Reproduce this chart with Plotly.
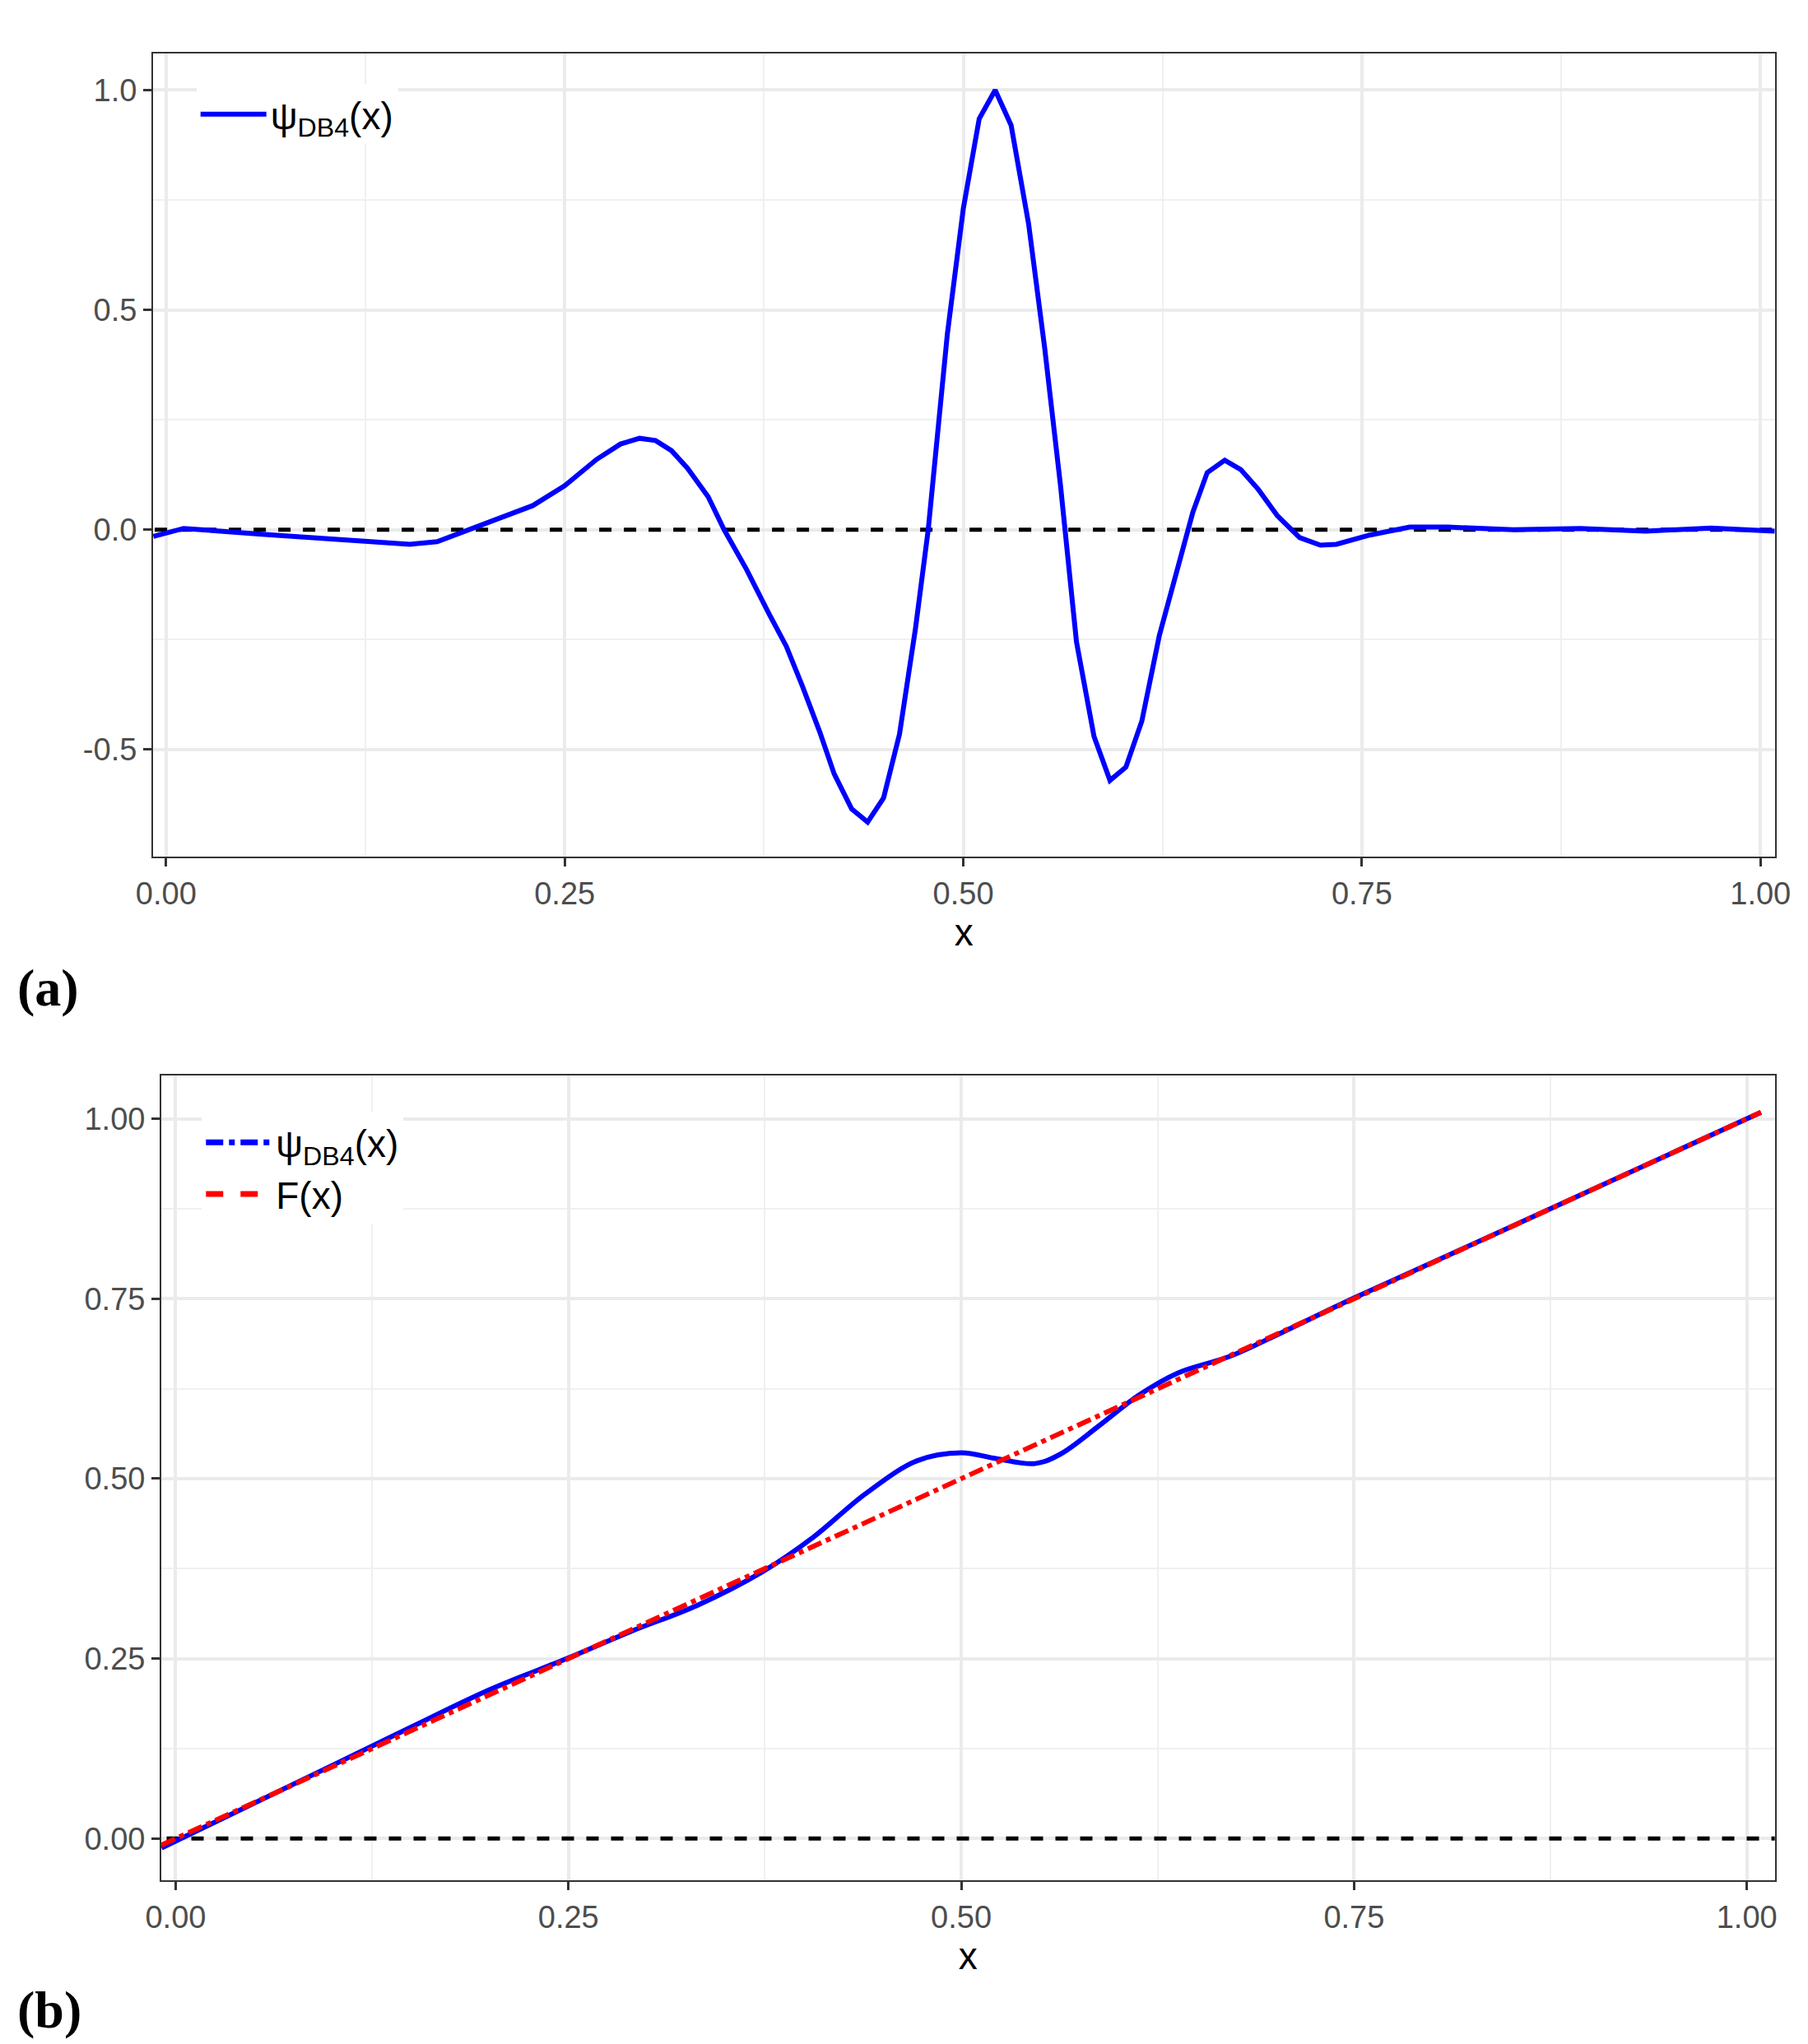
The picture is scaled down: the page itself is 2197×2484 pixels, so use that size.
import plotly.graph_objects as go

xa = [-0.008,0.011,0.06,0.12,0.153,0.17,0.19,0.23,0.25,0.27,0.285,0.297,0.307,0.317,0.327,0.34,0.35,0.364,0.378,0.389,0.399,0.41,0.419,0.43,0.44,0.45,0.46,0.47,0.478,0.49,0.50,0.51,0.52,0.53,0.541,0.551,0.561,0.571,0.582,0.592,0.602,0.612,0.623,0.634,0.644,0.653,0.664,0.674,0.685,0.697,0.711,0.724,0.734,0.755,0.78,0.804,0.845,0.887,0.928,0.969,1.009]
ya = [-0.015,0.003,-0.01,-0.025,-0.033,-0.027,0.0,0.055,0.1,0.16,0.195,0.208,0.203,0.18,0.14,0.075,0.0,-0.09,-0.19,-0.265,-0.355,-0.46,-0.555,-0.635,-0.665,-0.61,-0.465,-0.225,0.0,0.445,0.73,0.935,1.0,0.92,0.695,0.415,0.1,-0.255,-0.47,-0.57,-0.54,-0.435,-0.24,-0.09,0.04,0.13,0.158,0.137,0.092,0.032,-0.018,-0.035,-0.033,-0.012,0.006,0.006,0.0,0.003,-0.003,0.004,-0.003]

xb = [-0.009,0.1,0.15,0.2,0.25,0.29,0.332,0.373,0.406,0.439,0.472,0.5,0.522,0.547,0.563,0.588,0.613,0.638,0.671,0.704,0.749,0.85,1.009]
yb = [-0.013,0.102,0.155,0.207,0.251,0.288,0.324,0.37,0.419,0.479,0.525,0.536,0.528,0.521,0.534,0.574,0.616,0.647,0.67,0.703,0.75,0.85,1.009]
xf = [-0.009,1.009]
yf = [-0.009,1.009]

xticks = [0,0.25,0.5,0.75,1.0]
xlabels = ["0.00","0.25","0.50","0.75","1.00"]
ya_ticks = [-0.5,0,0.5,1.0]
ya_labels = ["-0.5","0.0","0.5","1.0"]
yb_ticks = [0,0.25,0.5,0.75,1.0]
yb_labels = ["0.00","0.25","0.50","0.75","1.00"]
x_minor = [0.125,0.375,0.625,0.875]
ya_minor = [-0.25,0.25,0.75]
yb_minor = [0.125,0.375,0.625,0.875]

fig = go.Figure()
fig.add_trace(go.Scatter(x=[-0.1,1.1], y=[0,0], mode="lines", line=dict(color="black", width=5, dash="dash"), showlegend=False, xaxis="x", yaxis="y"))
fig.add_trace(go.Scatter(x=xa, y=ya, mode="lines", line=dict(color="#0000FF", width=6), name="ψ<sub>DB4</sub>(x)", legend="legend", xaxis="x", yaxis="y"))

fig.add_trace(go.Scatter(x=[-0.1,1.1], y=[0,0], mode="lines", line=dict(color="black", width=5, dash="dash"), showlegend=False, xaxis="x2", yaxis="y2"))
fig.add_trace(go.Scatter(x=xb, y=yb, mode="lines", line=dict(color="#0000FF", width=6, shape="spline"), showlegend=False, xaxis="x2", yaxis="y2"))
fig.add_trace(go.Scatter(x=xf, y=yf, mode="lines", line=dict(color="#FF0000", width=6, dash="dashdot"), showlegend=False, xaxis="x2", yaxis="y2"))
fig.add_trace(go.Scatter(x=[None], y=[None], mode="lines", line=dict(color="#0000FF", width=7, dash="dashdot"), name="ψ<sub>DB4</sub>(x)", legend="legend2", xaxis="x2", yaxis="y2"))
fig.add_trace(go.Scatter(x=[None], y=[None], mode="lines", line=dict(color="#FF0000", width=7, dash="dash"), name="F(x)", legend="legend2", xaxis="x2", yaxis="y2"))

ax = dict(showline=True, mirror=True, linecolor="#333333", linewidth=2, ticks="outside", ticklen=10, tickwidth=3, tickcolor="#333333",
          gridcolor="#EBEBEB", gridwidth=4, zeroline=False, automargin=False,
          tickfont=dict(family="Liberation Sans", size=38, color="#4D4D4D"))
def mn(vals):
    return dict(tickvals=vals, showgrid=True, gridcolor="#F0F0F0", gridwidth=2, ticks="")
tf = dict(family="Liberation Sans", size=46, color="black")
fig.update_layout(
    width=2197, height=2484, margin=dict(l=0, r=0, t=0, b=0), paper_bgcolor="white", plot_bgcolor="white",
    xaxis=dict(ax, domain=[0.081,0.978], range=[-0.0082,1.009], tickvals=xticks, ticktext=xlabels, anchor="y", minor=mn(x_minor),
               title=dict(text="x", font=tf, standoff=5)),
    yaxis=dict(ax, domain=[0.584,0.977], range=[-0.744,1.083], tickvals=ya_ticks, ticktext=ya_labels, anchor="x", minor=mn(ya_minor)),
    xaxis2=dict(ax, domain=[0.0856,0.978], range=[-0.0091,1.0178], tickvals=xticks, ticktext=xlabels, anchor="y2", minor=mn(x_minor),
               title=dict(text="x", font=tf, standoff=5)),
    yaxis2=dict(ax, domain=[0.0833,0.477], range=[-0.058,1.06], tickvals=yb_ticks, ticktext=yb_labels, anchor="x2", minor=mn(yb_minor)),
    legend=dict(x=0.105, y=0.962, xanchor="left", yanchor="top", bgcolor="white", itemwidth=80, font=dict(family="Liberation Sans", size=46, color="black")),
    legend2=dict(x=0.108, y=0.459, xanchor="left", yanchor="top", bgcolor="white", itemwidth=80, tracegroupgap=30, font=dict(family="Liberation Sans", size=46, color="black")),
    annotations=[
        dict(text="<b>(a)</b>", x=0.005, y=0.52, xref="paper", yref="paper", xanchor="left", yanchor="middle", showarrow=False, font=dict(family="Liberation Serif", size=64, color="black")),
        dict(text="<b>(b)</b>", x=0.005, y=0.02, xref="paper", yref="paper", xanchor="left", yanchor="middle", showarrow=False, font=dict(family="Liberation Serif", size=64, color="black")),
    ],
)
fig.write_html("out.html")
